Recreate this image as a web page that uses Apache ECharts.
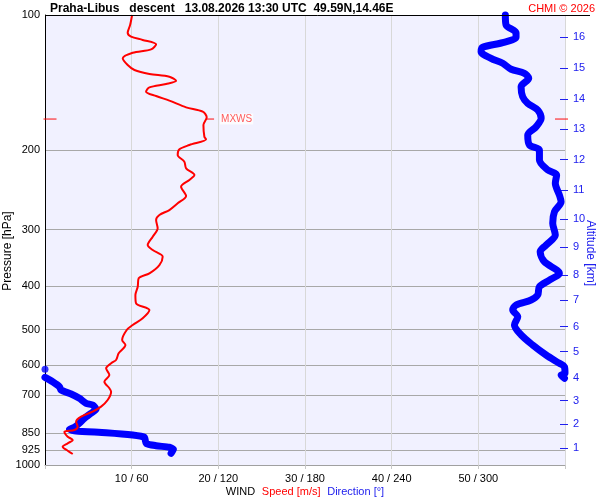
<!DOCTYPE html>
<html><head><meta charset="utf-8">
<script src="https://cdn.jsdelivr.net/npm/echarts@6/dist/echarts.min.js"></script>
<style>html,body{margin:0;padding:0;background:#fff}#c{width:600px;height:500px}</style>
</head><body><div id="c"></div>
<script>
// ---- data ----
const pressureTicks = [100, 200, 300, 400, 500, 600, 700, 850, 925, 1000];
const altitudeKm = [1, 2, 3, 4, 5, 6, 7, 8, 9, 10, 11, 12, 13, 14, 15, 16];
const altitudePressure = [918.2, 810.6, 719.6, 639.7, 559.5, 492.8, 430.0, 378.4, 328.4, 284.4, 244.8, 209.7, 179.5, 153.7, 131.3, 112.1];

const speedPressure = [100,105.3,109.5,111.7,113.6,116.2,119.2,121.3,124.8,129.2,132.5,135.2,137.1,140.0,142.3,144.8,148.1,151.4,155.0,160.4,164.0,168.8,175.6,186.4,188.9,194.5,198.8,204.7,211.8,219.1,226.8,232.6,240.8,252.5,262.1,271.3,278.3,285.5,297.9,311.0,324.5,332.9,344.5,359.4,375.0,384.7,401.6,419.0,437.2,452.5,472.1,488.5,501.2,527.5,541.2,564.7,584.3,594.3,609.7,631.0,653.0,675.4,687.2,717.1,741.9,761.3,781.0,801.2,821.9,835.8,843.3,865.1,879.9,895.0,910.6,929.5,945.4];
const speedValues = [10.05,9.82,9.54,9.93,11.27,12.82,12.24,10.12,8.97,9.54,10.32,12.05,14.35,15.13,13.97,12.05,11.66,12.82,14.35,16.28,18.20,18.66,18.28,18.39,18.59,16.66,15.51,15.31,16.08,16.28,17.24,16.66,15.70,16.28,15.31,14.35,13.20,12.82,13.00,12.43,11.85,12.43,13.58,13.20,12.05,10.81,10.70,10.43,10.51,12.05,11.27,10.12,9.43,8.90,9.28,8.50,8.20,7.63,7.05,7.43,6.85,7.43,7.63,7.23,6.47,5.50,4.17,3.59,3.77,3.39,2.24,2.62,3.20,2.62,2.04,2.62,3.20];

const dirUpperPressure = [100,105.3,109.5,112.1,115.2,118.0,120.7,124.8,128.0,132.0,134.8,138.2,144.3,151.9,157.1,162.6,169.7,177.1,184.8,194.5,199.5,210.1,221.0,226.8,236.6,251.2,260.0,273.6,290.3,308.3,324.5,335.7,353.3,375.0,388.2,401.6,419.0,429.9,441.0,452.5,468.2,488.5,514.0,541.2,569.6,594.3,604.7,625.5,631.0,641.7];
const dirUpperValues = [318.7,319.2,326.1,326.1,316.9,303.0,301.9,308.8,316.9,322.7,331.9,334.9,329.6,330.7,334.2,341.1,343.5,340.0,334.2,335.4,342.3,342.3,348.0,354.2,353.3,356.1,357.3,352.7,351.5,353.3,346.9,342.8,345.7,356.1,349.2,342.3,341.1,336.5,326.1,323.8,327.3,325.0,329.6,337.6,346.9,356.1,359.6,360,357.3,359.6];

const dirLowerPressure = [638.5,653.0,669.9,681.3,695.4,710.9,729.3,735.6,751.9,767.5,787.3,807.6,824.4,833.0,840.2,847.6,857.7,867.8,895.0,905.9,913.4,922.8,941.9];
const dirLowerValues = [0,5.3,10.0,11.1,18.1,23.8,28.5,33.0,35.4,31.9,27.3,23.8,20.4,16.9,21.5,42.3,60.7,68.8,70.0,76.9,86.1,88.9,87.3];

const dirDotPressure = [612.7];
const dirDotValues = [0];

const mxwsSpeed = 18.7;
const mxwsPressure = 170.3;
const speedAxisEnds = [0, 60];

// ---- chart ----
const FONT = 'Liberation Sans, Arial, sans-serif';
const RED = '#ff0000';
const BLUE = '#0000ff';
const LBLUE = '#2020ee';
const chart = echarts.init(document.getElementById('c'), null, {renderer: 'canvas'});

function kmLabel(v) {
  let best = 0, bd = Infinity;
  altitudePressure.forEach((p, i) => {
    const d = Math.abs(Math.log(p) - Math.log(v));
    if (d < bd) { bd = d; best = i; }
  });
  return String(altitudeKm[best]);
}
const zip = (xs, ps) => xs.map((x, i) => [x, ps[i]]);

const option = {
  backgroundColor: '#ffffff',
  animation: false,
  title: [
    {text: 'Praha-Libus   descent   13.08.2026 13:30 UTC  49.59N,14.46E', left: 50, top: 0, padding: [3, 0, 0, 0],
     textStyle: {fontSize: 12, fontWeight: 'bold', color: '#000', fontFamily: FONT}},
    {text: 'CHMI \u00a9 2026', right: 5, top: 0, padding: [3, 0, 0, 0],
     textStyle: {fontSize: 11, fontWeight: 'normal', color: RED, fontFamily: FONT}}
  ],
  grid: {left: 45, right: 35, top: 15, bottom: 35, containLabel: false, outerBoundsMode: 'none',
         show: true, backgroundColor: '#f1f1ff', borderWidth: 0},
  xAxis: [
    {type: 'value', min: 0, max: 60, interval: 10, position: 'bottom',
     axisLine: {show: true, onZero: false, lineStyle: {color: '#a0a0a0'}},
     axisTick: {show: true, length: 4, lineStyle: {color: '#c8c8c8'}},
     axisLabel: {fontSize: 11, color: '#000', fontFamily: FONT, margin: 8,
                 formatter: v => (v === 0 || v === 60) ? '' : (v + ' / ' + v * 6)},
     splitLine: {show: true, lineStyle: {color: '#d8d8d8'}},
     name: '{w|WIND}  {r|Speed [m/s]}  {b|Direction [\u00b0]}', nameLocation: 'middle', nameGap: 20.5,
     nameMoveOverlap: false,
     nameTextStyle: {rich: {
       w: {color: '#000', fontSize: 11, fontFamily: FONT},
       r: {color: RED, fontSize: 11, fontFamily: FONT},
       b: {color: LBLUE, fontSize: 11, fontFamily: FONT}}}},
    {type: 'value', min: 0, max: 360, show: false}
  ],
  yAxis: [
    {type: 'log', logBase: 10, min: 100, max: 1000, inverse: true, position: 'left',
     axisLine: {show: true, onZero: false, lineStyle: {color: '#000'}},
     axisTick: {show: false, customValues: pressureTicks},
     axisLabel: {customValues: pressureTicks, fontSize: 11, color: '#000', margin: 5, fontFamily: FONT,
                 formatter: v => String(Math.round(v))},
     splitLine: {show: true, lineStyle: {color: '#a8a8a8'}},
     name: 'Pressure [hPa]', nameLocation: 'middle', nameRotate: 90, nameGap: 31, nameMoveOverlap: false,
     nameTextStyle: {fontSize: 12, color: '#000', fontFamily: FONT, padding: [0, 22, 0, 0]}},
    {type: 'log', logBase: 10, min: 100, max: 1000, inverse: true, position: 'right', offset: 3,
     axisLine: {show: false, onZero: false},
     axisTick: {show: true, inside: true, length: 8, customValues: altitudePressure, lineStyle: {color: LBLUE}},
     axisLabel: {customValues: altitudePressure, formatter: kmLabel, color: LBLUE, fontSize: 11, margin: 5, fontFamily: FONT},
     splitLine: {show: false},
     name: 'Altitude [km]', nameLocation: 'middle', nameRotate: -90, nameGap: 16, nameMoveOverlap: false,
     nameTextStyle: {fontSize: 12, color: LBLUE, fontFamily: FONT, padding: [0, 0, 0, 26]}}
  ],
  series: [
    {name: 'DirectionUpper', type: 'line', xAxisIndex: 1, yAxisIndex: 0,
     data: zip(dirUpperValues, dirUpperPressure), showSymbol: false, smooth: 0.3, clip: false,
     lineStyle: {color: BLUE, width: 7, cap: 'round', join: 'round'}, itemStyle: {color: BLUE}, z: 2},
    {name: 'DirectionLower', type: 'line', xAxisIndex: 1, yAxisIndex: 0,
     data: zip(dirLowerValues, dirLowerPressure), showSymbol: false, smooth: 0.2, clip: false,
     lineStyle: {color: BLUE, width: 7, cap: 'round', join: 'round'}, itemStyle: {color: BLUE}, z: 2},
    {name: 'DirectionDot', type: 'scatter', xAxisIndex: 1, yAxisIndex: 0,
     data: zip(dirDotValues, dirDotPressure), symbolSize: 7, clip: false, itemStyle: {color: BLUE}, z: 2},
    {name: 'Speed', type: 'line', xAxisIndex: 0, yAxisIndex: 0,
     data: zip(speedValues, speedPressure), showSymbol: false, smooth: 0.3,
     lineStyle: {color: RED, width: 2}, itemStyle: {color: RED}, z: 3},
    {name: 'MXWS', type: 'scatter', xAxisIndex: 0, yAxisIndex: 0, clip: false,
     data: [[mxwsSpeed, mxwsPressure]], symbol: 'rect', symbolSize: [8, 1.2], symbolOffset: [3, 0],
     itemStyle: {color: RED},
     label: {show: true, position: 'right', distance: 6, formatter: 'MXWS', color: '#ff3030', fontSize: 10,
             fontFamily: FONT, backgroundColor: '#ffffff', padding: [1, 1, 0, 1]}, z: 4},
    {name: 'MXWS level', type: 'scatter', xAxisIndex: 0, yAxisIndex: 0, clip: false, silent: true,
     data: [
       {value: [speedAxisEnds[0], mxwsPressure], symbolOffset: [5, 0]},
       {value: [speedAxisEnds[1], mxwsPressure], symbolOffset: [-3.5, 0]}
     ],
     symbol: 'rect', symbolSize: [13, 1.2], itemStyle: {color: RED}, z: 4}
  ]
};
chart.setOption(option);

const yTop = chart.convertToPixel({yAxisIndex: 0}, 100);
const xLeft = chart.convertToPixel({xAxisIndex: 0}, 0);
chart.setOption({graphic: [{type: 'line', z: 10,
  shape: {x1: xLeft, y1: Math.round(yTop) + 0.5, x2: 590, y2: Math.round(yTop) + 0.5},
  style: {stroke: '#000', lineWidth: 1}}]});
</script>
</body></html>
